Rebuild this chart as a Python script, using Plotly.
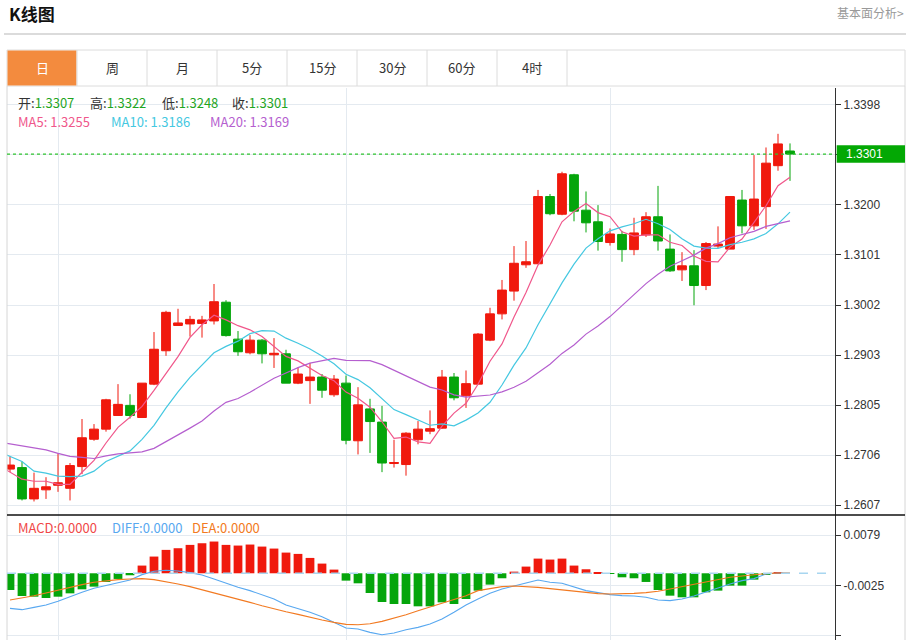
import plotly.graph_objects as go

W, H = 913, 640

# ---------------- data ----------------
opens = [1.2678, 1.2681, 1.2619, 1.2637, 1.2646, 1.2640, 1.2683, 1.2737, 1.2757, 1.2784,
         1.2804, 1.2780, 1.2846, 1.2912, 1.2962, 1.2965, 1.2966, 1.2971, 1.3008, 1.2935,
         1.2908, 1.2933, 1.2904, 1.2906, 1.2848, 1.2853, 1.2860, 1.2825, 1.2848, 1.2734,
         1.2797, 1.2771, 1.2689, 1.2687, 1.2736, 1.2753, 1.2759, 1.2860, 1.2823, 1.2846,
         1.2933, 1.2985, 1.3030, 1.3082, 1.3084, 1.3217, 1.3182, 1.3260, 1.3190, 1.3167,
         1.3126, 1.3142, 1.3112, 1.3141, 1.3177, 1.3113, 1.3072, 1.3080, 1.3041, 1.3119,
         1.3113, 1.3210, 1.3159, 1.3197, 1.3278, 1.3307]
highs = [1.2703, 1.2693, 1.2671, 1.2662, 1.2709, 1.2690, 1.2777, 1.2767, 1.2817, 1.2846,
         1.2826, 1.2848, 1.2949, 1.2991, 1.2995, 1.2981, 1.2981, 1.3044, 1.3012, 1.2951,
         1.2943, 1.2935, 1.2937, 1.2914, 1.2879, 1.2888, 1.2866, 1.2864, 1.2863, 1.2840,
         1.2817, 1.2803, 1.2736, 1.2751, 1.2773, 1.2794, 1.2874, 1.2868, 1.2873, 1.2947,
         1.2997, 1.3052, 1.3119, 1.3129, 1.3230, 1.3222, 1.3266, 1.3262, 1.3227, 1.3200,
         1.3154, 1.3149, 1.3175, 1.3186, 1.3238, 1.3142, 1.3107, 1.3111, 1.3127, 1.3158,
         1.3218, 1.3230, 1.3299, 1.3314, 1.3341, 1.3322]
lows = [1.2672, 1.2616, 1.2614, 1.2619, 1.2633, 1.2616, 1.2668, 1.2734, 1.2752, 1.2784,
        1.2778, 1.2780, 1.2844, 1.2902, 1.2962, 1.2940, 1.2938, 1.2964, 1.2940, 1.2902,
        1.2905, 1.2887, 1.2878, 1.2848, 1.2846, 1.2807, 1.2819, 1.2821, 1.2727, 1.2707,
        1.2710, 1.2672, 1.2681, 1.2665, 1.2727, 1.2747, 1.2758, 1.2814, 1.2799, 1.2846,
        1.2931, 1.2974, 1.3011, 1.3076, 1.3084, 1.3180, 1.3180, 1.3168, 1.3146, 1.3110,
        1.3120, 1.3088, 1.3101, 1.3137, 1.3110, 1.3068, 1.3050, 1.3002, 1.3032, 1.3115,
        1.3113, 1.3144, 1.3151, 1.3153, 1.3268, 1.3248]
closes = [1.2686, 1.2619, 1.2640, 1.2643, 1.2651, 1.2685, 1.2740, 1.2757, 1.2815, 1.2806,
          1.2784, 1.2848, 1.2915, 1.2988, 1.2967, 1.2974, 1.2973, 1.3009, 1.2942, 1.2910,
          1.2933, 1.2906, 1.2907, 1.2848, 1.2866, 1.2860, 1.2834, 1.2856, 1.2735, 1.2805,
          1.2772, 1.2690, 1.2691, 1.2749, 1.2757, 1.2758, 1.2860, 1.2819, 1.2847, 1.2945,
          1.2985, 1.3032, 1.3085, 1.3088, 1.3217, 1.3183, 1.3262, 1.3188, 1.3165, 1.3128,
          1.3143, 1.3112, 1.3145, 1.3177, 1.3129, 1.3070, 1.3080, 1.3041, 1.3124, 1.3123,
          1.3217, 1.3159, 1.3212, 1.3283, 1.3321, 1.3301]

# moving-average values before the window is full (history left of the visible range), index -1 ...
ma5_head = [1.2686, 1.2672, 1.2658, 1.2654, 1.2654]
ma10_head = [1.2713, 1.2703, 1.2693, 1.2674, 1.2670, 1.2664, 1.2663, 1.2664, 1.2674, 1.2693]
ma20_head = [1.2732, 1.2728, 1.2724, 1.2720, 1.2716, 1.2709, 1.2703, 1.2701, 1.2699, 1.2704,
             1.2708, 1.2710, 1.2712, 1.2719, 1.2732, 1.2745, 1.2759, 1.2773, 1.2793, 1.2810]

macd_hist = [-0.00345, -0.00469, -0.00483, -0.00510, -0.00483, -0.00414, -0.00331, -0.00276,
             -0.00179, -0.00117, -0.00041, 0.00159, 0.00345, 0.00483, 0.00517, 0.00586,
             0.00620, 0.00655, 0.00586, 0.00572, 0.00593, 0.00551, 0.00510, 0.00427,
             0.00400, 0.00317, 0.00200, 0.00076, -0.00152, -0.00207, -0.00407, -0.00593,
             -0.00634, -0.00634, -0.00682, -0.00682, -0.00600, -0.00634, -0.00531, -0.00358,
             -0.00234, -0.00103, 0.00034, 0.00138, 0.00303, 0.00283, 0.00303, 0.00159,
             0.00083, 0.00021, -0.00014, -0.00083, -0.00103, -0.00179, -0.00345, -0.00462,
             -0.00496, -0.00496, -0.00393, -0.00358, -0.00255, -0.00255, -0.00131, -0.00021,
             0.00014, 0.00000]
diff = [-0.00724, -0.00751, -0.00703, -0.00655, -0.00579, -0.00483, -0.00393, -0.00310,
        -0.00248, -0.00200, -0.00138, -0.00028, 0.00041, 0.00062, 0.00048, 0.00014,
        -0.00034, -0.00117, -0.00207, -0.00290, -0.00358, -0.00441, -0.00531, -0.00655,
        -0.00724, -0.00806, -0.00896, -0.01013, -0.01130, -0.01151, -0.01220, -0.01268,
        -0.01234, -0.01165, -0.01117, -0.01048, -0.00944, -0.00806, -0.00655, -0.00531,
        -0.00414, -0.00324, -0.00255, -0.00200, -0.00138, -0.00186, -0.00207, -0.00290,
        -0.00358, -0.00400, -0.00441, -0.00462, -0.00469, -0.00496, -0.00551, -0.00565,
        -0.00531, -0.00469, -0.00393, -0.00303, -0.00221, -0.00152, -0.00110, -0.00014,
        0.00007, 0.00000]
dea = [-0.00551, -0.00510, -0.00462, -0.00407, -0.00345, -0.00290, -0.00234, -0.00186,
       -0.00152, -0.00131, -0.00117, -0.00110, -0.00131, -0.00172, -0.00221, -0.00276,
       -0.00338, -0.00400, -0.00469, -0.00538, -0.00600, -0.00669, -0.00738, -0.00793,
       -0.00848, -0.00910, -0.00965, -0.01013, -0.01055, -0.01062, -0.01041, -0.00993,
       -0.00931, -0.00855, -0.00772, -0.00696, -0.00613, -0.00545, -0.00462, -0.00358,
       -0.00310, -0.00276, -0.00262, -0.00269, -0.00290, -0.00317, -0.00345, -0.00379,
       -0.00407, -0.00420, -0.00427, -0.00427, -0.00414, -0.00400, -0.00372, -0.00324,
       -0.00276, -0.00221, -0.00165, -0.00117, -0.00083, -0.00055, -0.00028, -0.00007,
       0.00007, 0.00007]

price_ticks = [1.2607 + k * 0.0098875 for k in range(9)]
price_tick_text = ["1.2607", "1.2706", "1.2805", "1.2903", "1.3002", "1.3101", "1.3200", "", "1.3398"]
macd_ticks = [0.0079, -0.0025, -0.0128]
macd_tick_text = ["0.0079", "-0.0025", "-0.0128"]
month_marks = [4, 28, 50]
tabs = ["日", "周", "月", "5分", "15分", "30分", "60分", "4时"]

# ---------------- derived ----------------
xs = list(range(len(closes)))
ma_x = [-1] + xs


def rolling(vals, n, head):
    out = list(head)
    for i in range(n - 1, len(vals)):
        out.append(sum(vals[i - n + 1:i + 1]) / n)
    return out


ma5 = rolling(closes, 5, ma5_head)
ma10 = rolling(closes, 10, ma10_head)
ma20 = rolling(closes, 20, ma20_head)

UP = "#f0190d"
DOWN = "#05a50b"
C_MA5 = "#f0578b"
C_MA10 = "#45c8e1"
C_MA20 = "#b55fcf"
C_DIFF = "#58a8f0"
C_DEA = "#f27a22"
GRID = "#e4eaf0"
CJK = "Noto Sans CJK SC"


def px(x):
    return x / W


def py(y):
    return 1 - y / H


XL, XR = px(7), px(835)

fig = go.Figure()
fig.add_trace(go.Candlestick(
    x=xs, open=opens, high=highs, low=lows, close=closes,
    increasing=dict(line=dict(color=UP, width=1), fillcolor=UP),
    decreasing=dict(line=dict(color=DOWN, width=1), fillcolor=DOWN),
    whiskerwidth=0, hoverinfo="skip", xaxis="x", yaxis="y"))
for vals, col in [(ma5, C_MA5), (ma10, C_MA10), (ma20, C_MA20)]:
    fig.add_trace(go.Scatter(x=ma_x, y=vals, mode="lines", line=dict(color=col, width=1.2),
                             hoverinfo="skip", xaxis="x", yaxis="y"))

fig.add_trace(go.Bar(x=xs, y=macd_hist,
                     marker=dict(color=[UP if v >= 0 else DOWN for v in macd_hist], line=dict(width=0)),
                     hoverinfo="skip", xaxis="x2", yaxis="y2"))
fig.add_trace(go.Scatter(x=xs, y=diff, mode="lines", line=dict(color=C_DIFF, width=1.1),
                         hoverinfo="skip", xaxis="x2", yaxis="y2"))
fig.add_trace(go.Scatter(x=xs, y=dea, mode="lines", line=dict(color=C_DEA, width=1.1),
                         hoverinfo="skip", xaxis="x2", yaxis="y2"))

axis_font = dict(family="Liberation Sans", size=12, color="#333")
xcommon = dict(domain=[XL, XR], range=[-0.25, 68.75], tickvals=month_marks, showticklabels=False,
               ticks="", showgrid=True, gridcolor=GRID, gridwidth=1, zeroline=False, showline=False,
               fixedrange=True)
fig.update_layout(
    width=W, height=H, margin=dict(l=0, r=0, t=0, b=0),
    paper_bgcolor="white", plot_bgcolor="white", showlegend=False,
    hovermode=False, dragmode=False,
    bargap=0.27, boxgap=0.27, boxgroupgap=0,
    xaxis=dict(anchor="y", rangeslider=dict(visible=False), **xcommon),
    xaxis2=dict(anchor="y2", **xcommon),
    yaxis=dict(domain=[py(515), py(88)], range=[1.2587225, 1.34316], side="right", anchor="x",
               tickvals=price_ticks, ticktext=price_tick_text, ticks="outside", ticklen=5,
               tickcolor="#333", showline=True, linecolor="#333", linewidth=1,
               showgrid=True, gridcolor=GRID, zeroline=False, tickfont=axis_font, fixedrange=True),
    yaxis2=dict(domain=[0, py(515)], range=[-0.01377, 0.012028], side="right", anchor="x2",
                tickvals=macd_ticks, ticktext=macd_tick_text, ticks="outside", ticklen=5,
                tickcolor="#333", showline=True, linecolor="#333", linewidth=1,
                showgrid=True, gridcolor=GRID, zeroline=False, tickfont=axis_font, fixedrange=True),
)

shapes = []
# header rule
shapes.append(dict(type="line", xref="paper", yref="paper", x0=px(4), x1=px(906), y0=py(34), y1=py(34),
                   line=dict(color="#cfcfcf", width=1.5)))
# tab bar
shapes.append(dict(type="rect", xref="paper", yref="paper", x0=px(7), x1=px(905), y0=py(86), y1=py(50),
                   line=dict(color="#dcdcdc", width=1), fillcolor="white"))
shapes.append(dict(type="rect", xref="paper", yref="paper", x0=px(7.5), x1=px(76.5), y0=py(85.5), y1=py(50.5),
                   line=dict(width=0), fillcolor="#f38b3e"))
for k in range(1, len(tabs) + 1):
    xx = 7 + 70 * k
    shapes.append(dict(type="line", xref="paper", yref="paper", x0=px(xx), x1=px(xx), y0=py(86), y1=py(50),
                       line=dict(color="#dcdcdc", width=1)))
# chart frame
shapes.append(dict(type="line", xref="paper", yref="paper", x0=px(7), x1=px(7), y0=py(86), y1=0,
                   line=dict(color="#d6d6d6", width=1)))
shapes.append(dict(type="line", xref="paper", yref="paper", x0=px(905), x1=px(905), y0=py(86), y1=0,
                   line=dict(color="#d6d6d6", width=1)))
shapes.append(dict(type="line", xref="paper", yref="paper", x0=px(7), x1=px(905), y0=py(515), y1=py(515),
                   line=dict(color="#111", width=1.5)))
# last price dotted line and box
last = closes[-1]
shapes.append(dict(type="line", xref="paper", yref="y", x0=XL, x1=XR, y0=last, y1=last,
                   line=dict(color="#2fc42f", width=1.2, dash="dot")))
shapes.append(dict(type="rect", xref="paper", yref="y", x0=px(836.7), x1=px(905),
                   y0=last - 0.00172, y1=last + 0.00172, line=dict(width=0), fillcolor="#03a804"))
# MACD zero line
shapes.append(dict(type="line", xref="paper", yref="y2", x0=XL, x1=XR, y0=0, y1=0,
                   line=dict(color="#a8d6f0", width=1.5, dash="dash")))
fig.update_layout(shapes=shapes)

ann = []


def text(x, y, s, color="#333", size=13, family=CJK, xanchor="left"):
    ann.append(dict(xref="paper", yref="paper", x=px(x), y=py(y), text=s, showarrow=False,
                    xanchor=xanchor, yanchor="middle", font=dict(family=family, size=size, color=color)))


text(7, 14, "<b>K线图</b>", color="#111", size=17)
text(906, 13, "基本面分析>", color="#999", size=12, xanchor="right")
for k, t in enumerate(tabs):
    text(42 + 70 * k, 68, t, color="white" if k == 0 else "#333", size=13, xanchor="center")

VAL = "#1fa51f"
labels = [("开:", opens[-1], 16), ("高:", highs[-1], 88), ("低:", lows[-1], 160), ("收:", closes[-1], 230)]
for lab, v, xx in labels:
    text(xx, 103, f"{lab}<span style='color:{VAL}'>{v:.4f}</span>", color="#333")
text(16, 121, f"MA5: {ma5[-1]:.4f}", color=C_MA5)
text(109, 121, f"MA10: {ma10[-1]:.4f}", color=C_MA10)
text(208, 121, f"MA20: {ma20[-1]:.4f}", color=C_MA20)
text(16, 527, "MACD:0.0000", color="#f04848")
text(110, 527, "DIFF:0.0000", color=C_DIFF)
text(190, 527, "DEA:0.0000", color=C_DEA)
ann.append(dict(xref="paper", yref="y", x=px(844), y=last, text=f"{last:.4f}", showarrow=False,
                xanchor="left", yanchor="middle", font=dict(family="Liberation Sans", size=12, color="white")))
fig.update_layout(annotations=ann)

fig.write_html("out.html", config={"displayModeBar": False},
               post_script="document.body.style.margin='0';document.body.style.overflow='hidden';")
